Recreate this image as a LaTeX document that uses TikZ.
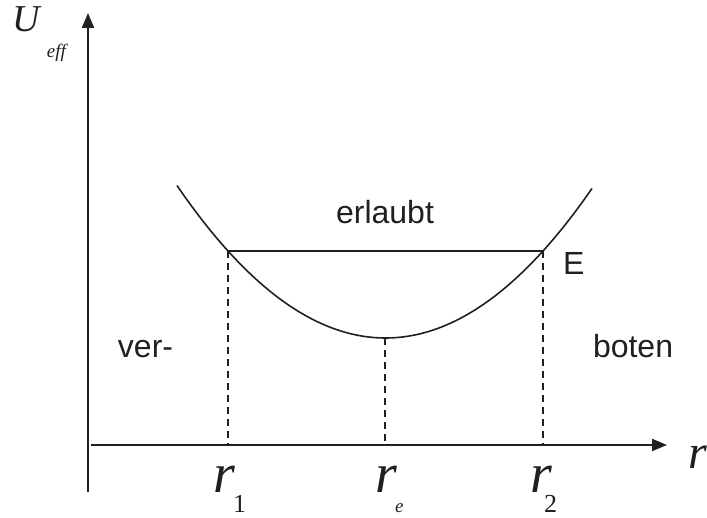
\documentclass[tikz,border=0pt]{standalone}
\usepackage{fontspec}
\setmainfont{Liberation Sans}
\newfontfamily\timesfont{Liberation Serif}
\usetikzlibrary{arrows.meta}
\definecolor{ink}{RGB}{35,31,32}

\begin{document}
\begin{tikzpicture}[x=1pt,y=1pt,line width=2pt,color=ink,
  every node/.style={inner sep=0pt,anchor=base west},
  sans/.style={font=\fontsize{32}{38}\selectfont},
  var/.style={font=\timesfont\itshape\fontsize{#1}{#1}\selectfont},
  num/.style={font=\timesfont\fontsize{#1}{#1}\selectfont}]
  \useasboundingbox (-88,-72) rectangle (619,445);
  \coordinate (O) at (0,0);
  \draw[-{Triangle[length=15pt,width=12pt]}] (0,-47) -- (0,432);
  \draw[-{Triangle[length=15pt,width=12pt]}] (3,0) -- (579,0);
  \coordinate (A) at (140,194);
  \coordinate (M) at (297,107);
  \coordinate (B) at (455,194);
  \draw[line width=1.6pt] plot[domain=89:504,smooth,samples=60] (\x,{107+87*((\x-297.5)/157.5)^2});
  \draw (A) -- (B);
  \foreach \p in {A,M,B} \draw[line width=1.6pt,dash pattern=on 7pt off 5pt] (\p) -- (\p |- O);
  \node[sans,anchor=base] (allowed) at (297,221) {erlaubt};
  \node[sans] (forbidL) at (29,88) {ver-};
  \node[sans] (forbidR) at (504,88) {boten};
  \node[sans] (E) at (474,170) {E};
  \node[var=38] (U) at (-76,413) {U};
  \node[var=19] (eff) at (-42,387) {eff};
  \node[var=48] (r) at (599,-23) {r};
  \node[var=56] (r1) at (124,-47) {r};
  \node[num=26] (r1sub) at (144,-67) {1};
  \node[var=56] (re) at (286,-47) {r};
  \node[var=19] (resub) at (306,-67) {e};
  \node[var=56] (r2) at (441,-47) {r};
  \node[num=26] (r2sub) at (455,-67) {2};
\end{tikzpicture}
\end{document}
